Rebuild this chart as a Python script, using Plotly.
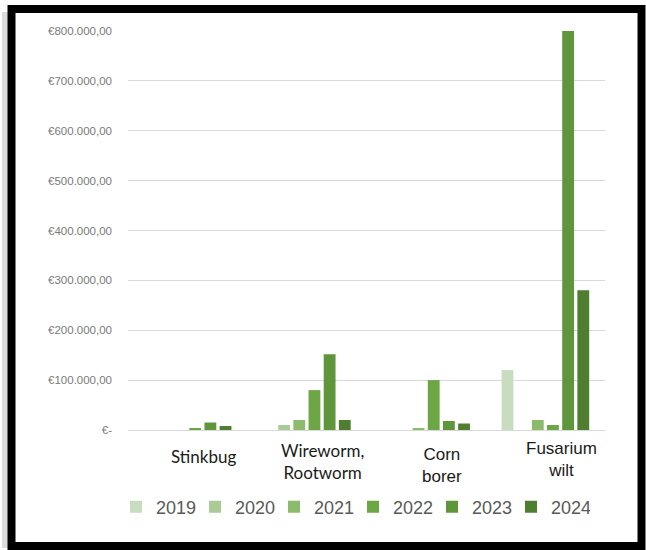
import plotly.graph_objects as go

categories = ["Stinkbug", "Wireworm,<br>Rootworm", "Corn<br>borer", "Fusarium<br>wilt"]
years = ["2019", "2020", "2021", "2022", "2023", "2024"]
values = {
    "2019": [0, 0, 0, 120000],
    "2020": [0, 10000, 0, 0],
    "2021": [0, 20000, 4000, 20000],
    "2022": [3000, 80000, 100000, 10000],
    "2023": [15000, 152000, 18000, 800000],
    "2024": [8000, 20000, 13000, 280000],
}
colors = ["#c8dcbf", "#a9cc96", "#8cbb6c", "#6da645", "#5f963b", "#4f7e31"]
tick_vals = [0, 100000, 200000, 300000, 400000, 500000, 600000, 700000, 800000]
tick_text = ["€-", "€100.000,00", "€200.000,00", "€300.000,00", "€400.000,00",
             "€500.000,00", "€600.000,00", "€700.000,00", "€800.000,00"]
label_fonts = ["Lato", "Lato", "Liberation Sans", "Liberation Sans"]
label_centers_px = [456, 461, 465, 459]

W, H = 646, 550
L, R, T, B = 128, 41, 31, 120
pw, ph = W - L - R, H - T - B

def px_x(p):
    return (p - L) / pw

def px_y(p):
    return (H - B - p) / ph

fig = go.Figure()
for y, c in zip(years, colors):
    fig.add_trace(go.Bar(name=y, x=categories, y=values[y], marker_color=c,
                         marker_line_width=0))

for cat, fnt, cy in zip(categories, label_fonts, label_centers_px):
    fig.add_annotation(x=cat, y=0, xref="x", yref="y", text=cat, showarrow=False,
                       xshift=16, yshift=-(cy - (H - B)), yanchor="middle",
                       font=dict(family=fnt, size=17, color="#1a1a1a"))

# soft shadow at the left edge
fig.add_shape(type="rect", xref="paper", yref="paper",
              x0=px_x(2), x1=px_x(8), y0=px_y(548), y1=px_y(12),
              line=dict(width=0), fillcolor="#dcdcdc", layer="below")
# black frame
fig.add_shape(type="rect", xref="paper", yref="paper",
              x0=px_x(11.5), x1=px_x(641.5), y0=px_y(546), y1=px_y(9),
              line=dict(color="black", width=8), fillcolor="white", layer="below")

fig.update_layout(
    width=W, height=H,
    margin=dict(l=L, r=R, t=T, b=B, pad=0),
    paper_bgcolor="white", plot_bgcolor="white",
    barmode="group", bargap=0.237, bargroupgap=0.22,
    font=dict(family="Liberation Sans", color="#595959"),
    xaxis=dict(showticklabels=False, showgrid=False, zeroline=False, showline=False),
    yaxis=dict(range=[0, 800000], tickvals=tick_vals, ticktext=tick_text,
               showgrid=True, gridcolor="#d9d9d9", gridwidth=1,
               zeroline=True, zerolinecolor="#d9d9d9", zerolinewidth=1,
               showline=False, ticklabelstandoff=15,
               tickfont=dict(family="Liberation Sans", size=11.5, color="#7a7a7a")),
    legend=dict(orientation="h", xref="container", yref="container",
                x=353 / W, xanchor="center", y=1 - 507 / H, yanchor="middle",
                font=dict(family="Liberation Sans", size=18, color="#595959"),
                bgcolor="rgba(0,0,0,0)", traceorder="normal", itemwidth=30,
                entrywidth=34, entrywidthmode="pixels"),
    showlegend=True,
)

fig.write_html("out.html")
